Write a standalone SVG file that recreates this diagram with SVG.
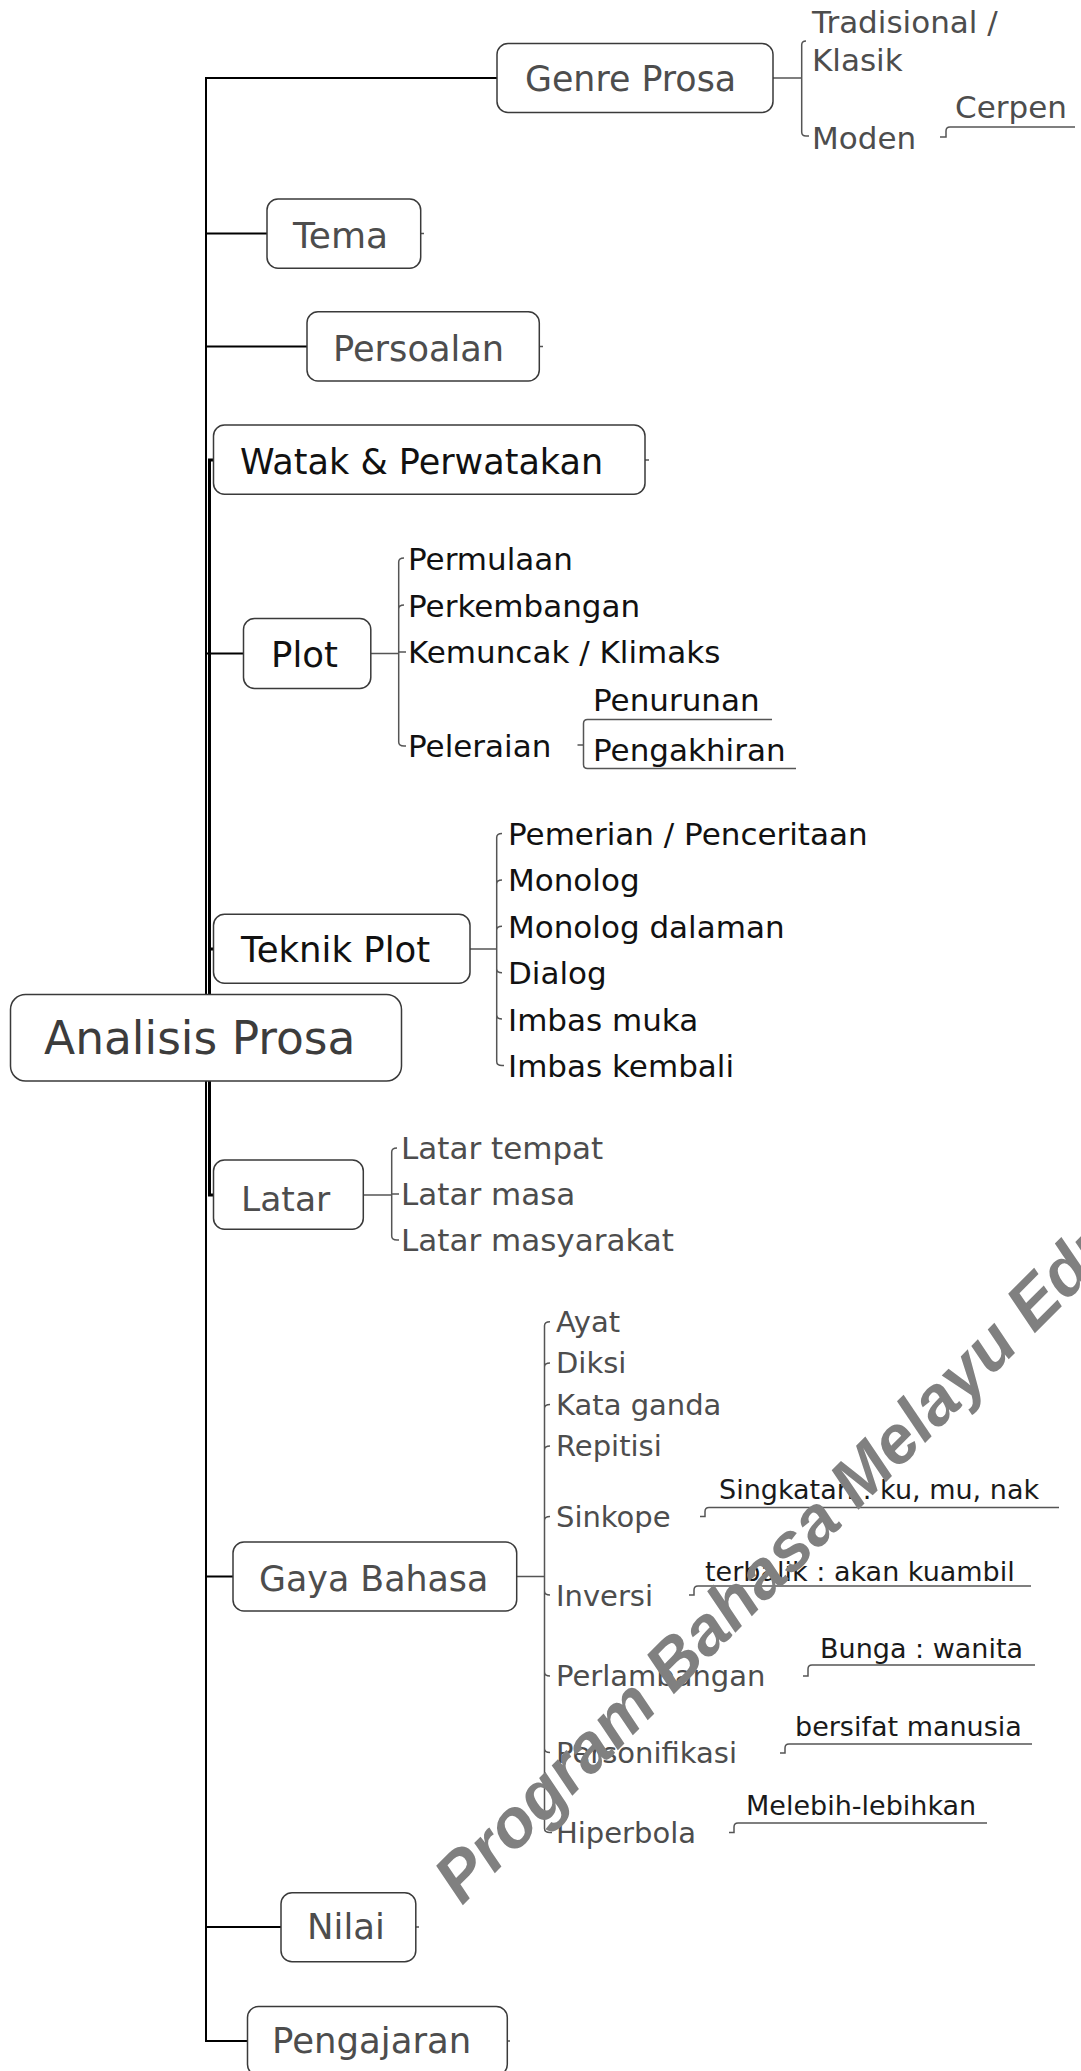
<svg xmlns="http://www.w3.org/2000/svg" width="1081" height="2071" viewBox="0 0 1081 2071">
<style>
.box{fill:#fff;stroke:#3a3a3a;stroke-width:1.5}
.t{font-family:"DejaVu Sans",Verdana,sans-serif}
.lb{font-size:35.5px}
.sub{font-size:31px}
.gb{font-size:29px}
.ann{font-size:27px;fill:#1a1a1a}
.g{fill:#4d4d4d}
.k{fill:#111}
.trunk{stroke:#000;stroke-width:2;fill:none}
.thick{stroke:#000;stroke-width:3;fill:none}
.br{stroke:#555;stroke-width:1.5;fill:none}
.ul{stroke:#555;stroke-width:1.5;fill:none}
.wm{font-family:"Liberation Sans",Arial,sans-serif;font-weight:bold;font-style:italic;font-size:68px;fill:#808080}
</style>
<rect width="1081" height="2071" fill="#fff"/>
<g id="connectors">
  <path class="trunk" d="M206,1038 V78 H497"/>
  <path class="trunk" d="M206,1038 V233.5 H267"/>
  <path class="trunk" d="M206,1038 V346.5 H307"/>
  <path class="thick" d="M209.5,1038 V460 H213.5"/>
  <path class="trunk" d="M206,1038 V653.5 H243.5"/>
  <path class="thick" d="M209.5,1038 V949 H213.5"/>
  <path class="thick" d="M209.5,1038 V1195 H213.5"/>
  <path class="trunk" d="M206,1038 V1576.5 H233"/>
  <path class="trunk" d="M206,1038 V1927 H281"/>
  <path class="trunk" d="M206,1038 V2041 H247.5"/>
  <path class="br" d="M420.7,233.5 H424 M539.3,346.5 H543 M645,460 H649 M415.8,1927 H419 M507.3,2041 H510"/>
  <path class="br" d="M773,78 H801.7 M806,41 Q801.7,41 801.7,45 V132 Q801.7,136 806,136 H809"/>
  <path class="ul" d="M940,137 H946 V131 Q946,127 950,127 H1075"/>
  <path class="br" d="M370.8,653.5 H398.7 M404,558 Q398.7,558 398.7,562 V742 Q398.7,746 404,746 H406 M404,605 Q398.7,605 398.7,609 M398.7,652 H406"/>
  <path class="ul" d="M577.5,745 H583.5 M587.5,719.5 Q583.5,719.5 583.5,723.5 V764.5 Q583.5,768.5 587.5,768.5 H796 M587.5,719.5 H772"/>
  <path class="br" d="M470,949 H496.7 M502,833.5 Q496.7,833.5 496.7,837.5 V1061.5 Q496.7,1065.5 502,1065.5 H504 M502,880 Q496.7,880 496.7,884 M502,926.3 Q496.7,926.3 496.7,930.3 M502,972.7 Q496.7,972.7 496.7,968.7 M502,1019 Q496.7,1019 496.7,1015"/>
  <path class="br" d="M363.3,1195 H391.7 M397,1148 Q391.7,1148 391.7,1152 V1236 Q391.7,1240 397,1240 H399 M391.7,1194 H399"/>
  <path class="br" d="M516.7,1576.5 H544.5 M550,1321.7 Q544.5,1321.7 544.5,1325.7 V1828.5 Q544.5,1832.5 550,1832.5 H552 M550,1363 Q544.5,1363 544.5,1367 M550,1404.5 Q544.5,1404.5 544.5,1408.5 M550,1446 Q544.5,1446 544.5,1450 M550,1516.5 Q544.5,1516.5 544.5,1520.5 M550,1595 Q544.5,1595 544.5,1591 M550,1676 Q544.5,1676 544.5,1672 M550,1752.5 Q544.5,1752.5 544.5,1748.5"/>
  <path class="ul" d="M700,1516.5 H705 V1511.5 Q705,1507.5 709,1507.5 H1059"/>
  <path class="ul" d="M689,1595 H694 V1590 Q694,1586 698,1586 H1031"/>
  <path class="ul" d="M803,1676 H808 V1669 Q808,1665 812,1665 H1035"/>
  <path class="ul" d="M780,1753 H785 V1748 Q785,1744 789,1744 H1032"/>
  <path class="ul" d="M729,1832.5 H734 V1827 Q734,1823 738,1823 H987"/>
</g>
<g id="root">
  <rect class="box" x="10.5" y="994.5" width="391" height="86.5" rx="15"/>
  <text class="t" x="44" y="1054" font-size="45.5" fill="#3c3c3c">Analisis Prosa</text>
</g>
<g id="genre">
  <rect class="box" x="497" y="43.5" width="276" height="69" rx="11"/>
  <text class="t g" x="525" y="90.5" font-size="34.8">Genre Prosa</text>
  <text class="t sub g" x="812" y="33">Tradisional /</text>
  <text class="t sub g" x="812" y="71">Klasik</text>
  <text class="t sub g" x="812" y="149">Moden</text>
  <text class="t sub g" x="955" y="118">Cerpen</text>
</g>
<g id="tema">
  <rect class="box" x="267" y="199" width="153.7" height="69.3" rx="11"/>
  <text class="t g" x="293" y="247.5" font-size="36">Tema</text>
</g>
<g id="persoalan">
  <rect class="box" x="307" y="311.7" width="232.3" height="69.3" rx="11"/>
  <text class="t g" x="333" y="360.5" font-size="35.2">Persoalan</text>
</g>
<g id="watak">
  <rect class="box" x="213.5" y="425" width="431.5" height="69.3" rx="11"/>
  <text class="t k" x="240" y="474" font-size="35">Watak &amp; Perwatakan</text>
</g>
<g id="plot">
  <rect class="box" x="243.5" y="618.5" width="127.3" height="70" rx="11"/>
  <text class="t lb k" x="271" y="667">Plot</text>
  <text class="t sub k" x="408" y="570">Permulaan</text>
  <text class="t sub k" x="408" y="616.5">Perkembangan</text>
  <text class="t sub k" x="408" y="663">Kemuncak / Klimaks</text>
  <text class="t sub k" x="408" y="757">Peleraian</text>
  <text class="t sub k" x="593" y="711">Penurunan</text>
  <text class="t sub k" x="593" y="761">Pengakhiran</text>
</g>
<g id="teknik">
  <rect class="box" x="213.5" y="914.3" width="256.5" height="69" rx="11"/>
  <text class="t lb k" x="241" y="961.5">Teknik Plot</text>
  <text class="t sub k" x="508" y="845">Pemerian / Penceritaan</text>
  <text class="t sub k" x="508" y="891.4">Monolog</text>
  <text class="t sub k" x="508" y="937.8">Monolog dalaman</text>
  <text class="t sub k" x="508" y="984.2">Dialog</text>
  <text class="t sub k" x="508" y="1030.6">Imbas muka</text>
  <text class="t sub k" x="508" y="1077">Imbas kembali</text>
</g>
<g id="latar">
  <rect class="box" x="213.5" y="1160" width="149.8" height="69.3" rx="11"/>
  <text class="t g" x="241" y="1210.5" font-size="34.5">Latar</text>
  <text class="t sub g" x="401" y="1159">Latar tempat</text>
  <text class="t sub g" x="401" y="1205">Latar masa</text>
  <text class="t sub g" x="401" y="1251">Latar masyarakat</text>
</g>
<g id="gaya">
  <rect class="box" x="233" y="1542" width="283.7" height="69" rx="11"/>
  <text class="t g" x="259" y="1590.5" font-size="34.8">Gaya Bahasa</text>
  <text class="t gb g" x="556" y="1331.5">Ayat</text>
  <text class="t gb g" x="556" y="1373">Diksi</text>
  <text class="t gb g" x="556" y="1414.5">Kata ganda</text>
  <text class="t gb g" x="556" y="1456">Repitisi</text>
  <text class="t gb g" x="556" y="1526.5">Sinkope</text>
  <text class="t gb g" x="556" y="1605.5">Inversi</text>
  <text class="t gb g" x="556" y="1686">Perlambangan</text>
  <text class="t gb g" x="556" y="1762.5">Personifikasi</text>
  <text class="t gb g" x="556" y="1842.5">Hiperbola</text>
  <text class="t ann" x="719" y="1499">Singkatan : ku, mu, nak</text>
  <text class="t ann" x="705" y="1580.5">terbalik : akan kuambil</text>
  <text class="t ann" x="820" y="1657.5">Bunga : wanita</text>
  <text class="t ann" x="795" y="1735.5">bersifat manusia</text>
  <text class="t ann" x="746" y="1815">Melebih-lebihkan</text>
</g>
<g id="nilai">
  <rect class="box" x="281" y="1892.7" width="134.8" height="69" rx="11"/>
  <text class="t lb g" x="307" y="1939">Nilai</text>
</g>
<g id="pengajaran">
  <rect class="box" x="247.5" y="2006.5" width="259.8" height="69" rx="11"/>
  <text class="t lb g" x="272" y="2052.5">Pengajaran</text>
</g>
<text class="wm" transform="translate(462,1906) rotate(-45)">Program Bahasa Melayu Edu</text>
</svg>
